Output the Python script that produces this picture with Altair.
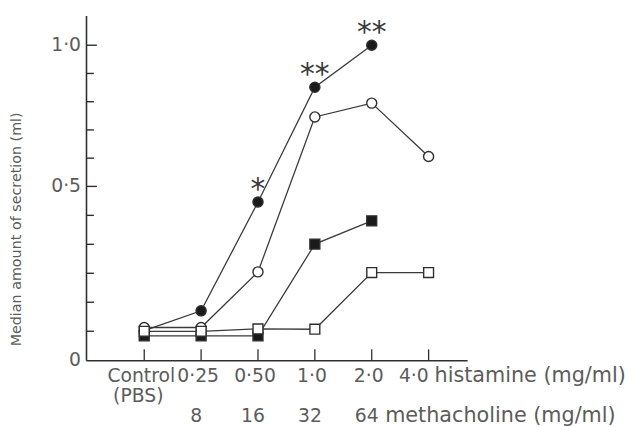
import altair as alt
import pandas as pd

# ---- data ----
doses = ["Control", "0·25", "0·50", "1·0", "2·0", "4·0"]
metha_doses = ["", "8", "16", "32", "64", ""]
series_names = ["filled circle", "open circle", "filled square", "open square"]
filled_circle = [0.085, 0.142, 0.455, 0.851, 1.0, None]
open_circle = [0.094, 0.094, 0.254, 0.746, 0.795, 0.606]
filled_square = [0.07, 0.07, 0.07, 0.334, 0.401, None]
open_square = [0.083, 0.083, 0.09, 0.089, 0.252, 0.252]
star_pos = [2, 3, 4]
star_text = ["*", "**", "**"]
ytick_vals = [0, 0.5, 1.0]
ytick_labels = ["0", "0·5", "1·0"]
ytick_minor = [0.0833, 0.1667, 0.25, 0.3333, 0.4167, 0.6, 0.7, 0.8, 0.9]

values = [filled_circle, open_circle, filled_square, open_square]
rows = []
for name, vals in zip(series_names, values):
    for i, v in enumerate(vals):
        if v is not None:
            rows.append({"pos": i, "value": v, "series": name})
df = pd.DataFrame(rows)

lab_df = pd.DataFrame({"pos": list(range(len(doses))), "dose": doses, "metha": metha_doses})
star_df = pd.DataFrame({"pos": star_pos, "value": [filled_circle[p] for p in star_pos], "txt": star_text})
ylab_df = pd.DataFrame({"value": ytick_vals, "lab": ytick_labels})
major_df = pd.DataFrame({"value": ytick_vals[1:]})
minor_df = pd.DataFrame({"value": ytick_minor})

W, H = 386, 349
INK = "#2e2e2e"
TXT = "#5c5c5c"
FONT = "DejaVu Sans"

xs = alt.Scale(domain=[-1.024, 5.677], nice=False, zero=False)
ys = alt.Scale(domain=[0, 0.5, 1.0, 1.105], range=[H, 173, 30, 0], nice=False, zero=False)

X = alt.X("pos:Q", scale=xs,
          axis=alt.Axis(labels=False, ticks=False, title=None, grid=False,
                        domainColor=INK, domainWidth=1.6))
Y = alt.Y("value:Q", scale=ys,
          axis=alt.Axis(labels=False, ticks=False, grid=False,
                        domainColor=INK, domainWidth=1.6,
                        title="Median amount of secretion (ml)", titleFont=FONT,
                        titleFontSize=14.5, titleFontWeight="normal", titleColor=TXT,
                        titleAngle=270, titleX=-70, titleY=216, titleAlign="center",
                        titleBaseline="middle"))

lines = alt.Chart(df).mark_line(color="#3a3a3a", strokeWidth=1.3).encode(
    x=X, y=Y, detail="series:N", order="pos:Q")

points = alt.Chart(df).mark_point(filled=True, opacity=1, stroke=INK, strokeWidth=1.4).encode(
    x=X, y=Y,
    shape=alt.Shape("series:N", scale=alt.Scale(domain=series_names,
                    range=["circle", "circle", "square", "square"]), legend=None),
    fill=alt.Fill("series:N", scale=alt.Scale(domain=series_names,
                  range=["#1a1a1a", "white", "#1a1a1a", "white"]), legend=None),
    size=alt.Size("series:N", scale=alt.Scale(domain=series_names,
                  range=[105, 100, 105, 100]), legend=None),
)

stars = alt.Chart(star_df).mark_text(font=FONT, fontSize=30, color="#3a3a3a",
                                     baseline="alphabetic", dy=-3).encode(
    x=X, y=Y, text="txt:N")

ylabels = alt.Chart(ylab_df).mark_text(font=FONT, fontSize=19, color=TXT, align="right",
                                       baseline="middle").encode(
    x=alt.value(-5), y=Y, text="lab:N")

yticks_minor = alt.Chart(minor_df).mark_rule(color=INK, strokeWidth=1.4).encode(
    y=Y, x=alt.value(0), x2=alt.value(8))
yticks_major = alt.Chart(major_df).mark_rule(color=INK, strokeWidth=1.4).encode(
    y=Y, x=alt.value(0), x2=alt.value(11))

xticks = alt.Chart(lab_df).mark_rule(color=INK, strokeWidth=1.3).encode(
    x=X, y=alt.value(H), y2=alt.value(H - 11))

row1 = alt.Chart(lab_df.iloc[:5]).mark_text(font=FONT, fontSize=19, color=TXT,
                                            baseline="alphabetic", dx=-3).encode(
    x=X, y=alt.value(H + 22), text="dose:N")
row1_last = alt.Chart(lab_df.iloc[5:]).mark_text(font=FONT, fontSize=19, color=TXT,
                                                 baseline="alphabetic", dx=-15).encode(
    x=X, y=alt.value(H + 22), text="dose:N")
row2 = alt.Chart(lab_df).mark_text(font=FONT, fontSize=19, color=TXT,
                                   baseline="alphabetic", dx=-5).encode(
    x=X, y=alt.value(H + 63), text="metha:N")

pbs = alt.Chart(lab_df.iloc[[0]]).mark_text(font=FONT, fontSize=19, color=TXT,
                                            baseline="alphabetic", dx=-6, text="(PBS)").encode(
    x=X, y=alt.value(H + 42))

unit1 = alt.Chart(lab_df.iloc[[0]]).mark_text(font=FONT, fontSize=21, color=TXT, align="left",
                                              baseline="alphabetic", text="histamine (mg/ml)").encode(
    x=alt.value(353), y=alt.value(H + 22))
unit2 = alt.Chart(lab_df.iloc[[0]]).mark_text(font=FONT, fontSize=21, color=TXT, align="left",
                                              baseline="alphabetic", text="methacholine (mg/ml)").encode(
    x=alt.value(303), y=alt.value(H + 63))

chart = alt.layer(lines, points, stars, ylabels, yticks_minor, yticks_major, xticks,
                  row1, row1_last, row2, pbs, unit1, unit2).properties(
    width=W, height=H,
    padding={"left": 79, "top": 5, "right": 166, "bottom": 66},
    autosize=alt.AutoSizeParams(type="none"),
    background="white",
).configure_view(stroke=None)

chart.save("out.html", embed_options={"renderer": "svg", "actions": False})
